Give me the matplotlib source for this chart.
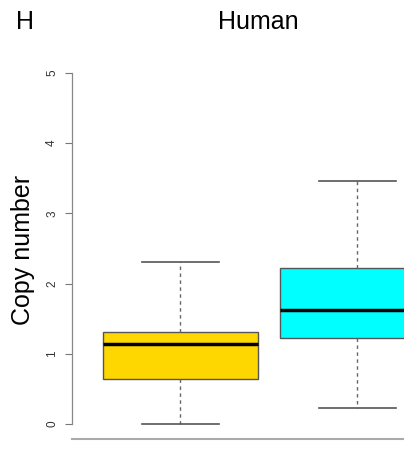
import matplotlib.pyplot as plt

# box statistics
groups = ["A", "B"]
whis_lo = [0.0, 0.23]
q1 = [0.64, 1.23]
median = [1.14, 1.62]
q3 = [1.31, 2.22]
whis_hi = [2.31, 3.46]
colors = ["#FFD700", "#00FFFF"]
yticks = [0, 1, 2, 3, 4, 5]

plt.rcParams['font.family'] = ['Liberation Sans', 'DejaVu Sans']

fig = plt.figure(figsize=(4.04, 4.49), dpi=100)
ax = fig.add_axes([72 / 404, 10 / 449, 1 - 72 / 404, 379 / 449])

stats = []
for i, g in enumerate(groups):
    stats.append(dict(label=g, whislo=whis_lo[i], q1=q1[i], med=median[i],
                      q3=q3[i], whishi=whis_hi[i], fliers=[]))

bp = ax.bxp(stats, positions=[1, 2], widths=0.875, patch_artist=True,
            showfliers=False,
            boxprops=dict(edgecolor="#555555", linewidth=1),
            medianprops=dict(color="black", linewidth=2.5),
            whiskerprops=dict(color="#666666", linestyle=(0, (2.5, 2.5)), linewidth=1),
            capprops=dict(color="#555555", linewidth=1.2),
            capwidths=0.4375)
for patch, c in zip(bp["boxes"], colors):
    patch.set_facecolor(c)

ax.set_xlim(0.387, 2.263)
ax.set_ylim(-0.214, 5.185)
ax.set_xticks([])
ax.set_yticks(yticks)
ax.set_yticklabels([str(t) for t in yticks], rotation=90, va="center",
                   fontsize=8.5, color="#333333")
ax.tick_params(axis="y", length=5, width=0.8, color="#777777", pad=5)
for s in ["top", "right"]:
    ax.spines[s].set_visible(False)
ax.spines["left"].set_bounds(0, 5)
ax.spines["left"].set_color("#888888")
ax.spines["left"].set_linewidth(0.9)
ax.spines["bottom"].set_color("#aaaaaa")
ax.spines["bottom"].set_linewidth(1.5)

ax.set_ylabel("Copy number", fontsize=18, labelpad=8)
fig.text(258 / 404, 1 - 22 / 449, "Human", fontsize=18, ha="center", va="center")
fig.text(25 / 404, 1 - 22 / 449, "H", fontsize=18, ha="center", va="center")

fig.savefig("out.png", dpi=100)
